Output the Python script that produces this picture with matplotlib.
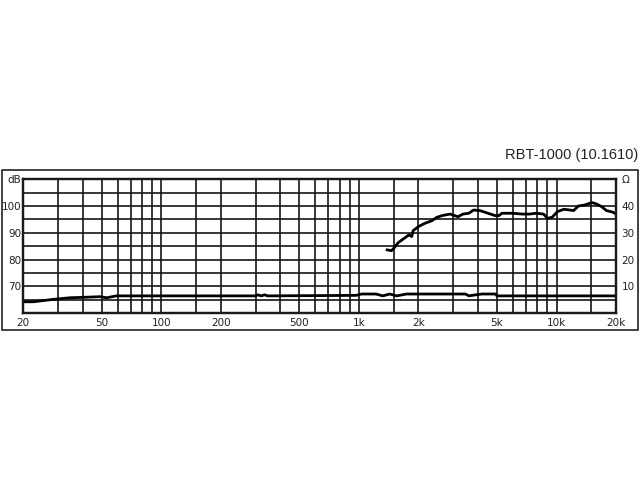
import matplotlib
matplotlib.use("Agg")
import matplotlib.pyplot as plt
from matplotlib.patches import Rectangle
from matplotlib.ticker import FixedLocator, NullFormatter

# frequency response (dB)
spl_freq = [1390, 1460, 1500, 1580, 1670, 1790, 1850, 1880, 2000, 2150, 2340,
            2480, 2660, 2900, 3000, 3170, 3360, 3600, 3800, 4100, 4500, 4900,
            5100, 5300, 6000, 6700, 7300, 7900, 8600, 9000, 9500, 10100, 10900,
            11700, 12200, 12900, 13900, 15100, 15900, 16900, 17900, 19300, 20000]
spl_db = [83.6, 83.3, 84.2, 86.3, 87.6, 89.2, 88.6, 90.8, 92.3, 93.5, 94.5,
          95.8, 96.5, 97.0, 96.6, 96.0, 97.0, 97.3, 98.5, 98.3, 97.3, 96.4,
          96.4, 97.3, 97.3, 97.0, 97.0, 97.3, 97.0, 95.4, 95.8, 97.9, 98.8,
          98.5, 98.3, 100.0, 100.4, 101.3, 100.8, 99.8, 98.3, 97.7, 97.0]

# impedance (ohm)
imp_freq = [20, 22.5, 28.4, 34.5, 41.6, 48.9, 52.8, 59.2, 300, 308, 320, 333,
            345, 600, 970, 1030, 1220, 1320, 1430, 1550, 1740, 3460, 3600,
            3900, 4200, 4900, 5000, 20000]
imp_ohm = [4.2, 4.2, 5.1, 5.7, 5.9, 6.1, 5.7, 6.4, 6.4, 6.8, 6.4, 6.8,
           6.4, 6.5, 6.6, 7.1, 7.1, 6.4, 7.1, 6.4, 7.1, 7.1, 6.4,
           6.8, 7.1, 7.1, 6.4, 6.4]

x_major = [20, 50, 100, 200, 500, 1000, 2000, 5000, 10000, 20000]
x_labels = ['20', '50', '100', '200', '500', '1k', '2k', '5k', '10k', '20k']
x_minor = [30, 40, 60, 70, 80, 90, 150, 300, 400, 600, 700, 800, 900, 1500,
           3000, 4000, 6000, 7000, 8000, 9000, 15000]
db_ticks = [60, 70, 80, 90, 100, 110]
db_labels = ['', '70', '80', '90', '100', 'dB']
ohm_ticks = [0, 10, 20, 30, 40, 50]
ohm_labels = ['', '10', '20', '30', '40', 'Ω']

title = 'RBT-1000 (10.1610)'

fig = plt.figure(figsize=(6.4, 4.8), dpi=100)
ax = fig.add_axes([23.3 / 640, 1 - 313 / 480, (616 - 23.3) / 640, (313 - 179.3) / 480])
ax2 = ax.twinx()

ax.set_xscale('log')
ax.set_xlim(20, 20000)
ax.set_ylim(60, 110)
ax2.set_ylim(0, 50)

ax.xaxis.set_major_locator(FixedLocator(x_major))
ax.set_xticklabels(x_labels)
ax.xaxis.set_minor_locator(FixedLocator(x_minor))
ax.xaxis.set_minor_formatter(NullFormatter())
ax.set_yticks(db_ticks)
ax.set_yticklabels(db_labels)
ax.yaxis.set_minor_locator(FixedLocator([65, 75, 85, 95, 105]))
ax2.set_yticks(ohm_ticks)
ax2.set_yticklabels(ohm_labels)

grid_kw = dict(color='#151515', linewidth=1.2)
ax.grid(True, which='both', axis='both', **grid_kw)
ax.set_axisbelow(True)

for a in (ax, ax2):
    a.tick_params(which='both', length=0, labelsize=7.5, colors='#222222')
    for s in a.spines.values():
        s.set_linewidth(1.6)
        s.set_color('#1a1a1a')
ax.tick_params(axis='x', pad=3.5)
ax.tick_params(axis='y', pad=1.5)
ax2.tick_params(axis='y', pad=4)

ax.plot(spl_freq, spl_db, color='black', linewidth=2.0, solid_joinstyle='round')
ax2.plot(imp_freq, imp_ohm, color='black', linewidth=2.0, solid_joinstyle='round')

# outer frame around the chart
fig.patches.append(Rectangle((1.5 / 640, 1 - 330 / 480), 636 / 640, 160 / 480,
                             transform=fig.transFigure, fill=False,
                             edgecolor='#222222', linewidth=1.2))

fig.text(638 / 640, 1 - 155 / 480, title, ha='right', va='center',
         fontsize=10.5, family='Liberation Sans', color='#222222')

fig.savefig('out.png', dpi=100)
